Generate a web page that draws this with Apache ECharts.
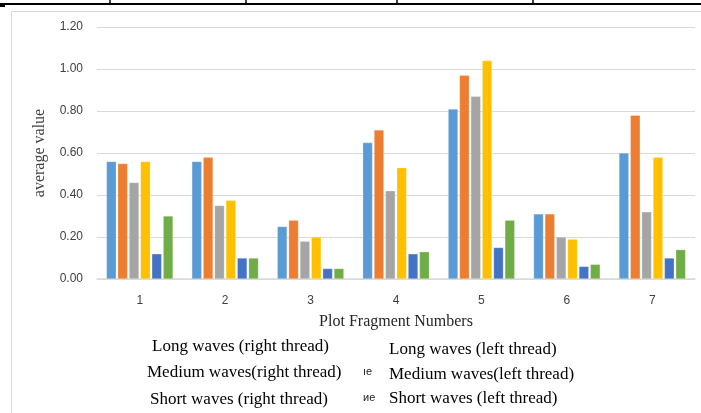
<!DOCTYPE html>
<html><head><meta charset="utf-8">
<script src="https://cdn.jsdelivr.net/npm/echarts@6/dist/echarts.min.js"></script>
<style>html,body{margin:0;padding:0;background:#fff}#c{width:701px;height:413px}</style>
</head><body><div id="c"></div>
<script>
const categories = ['1','2','3','4','5','6','7'];
const longRight   = [0.56, 0.56, 0.25, 0.65, 0.81, 0.31, 0.60];
const longLeft    = [0.55, 0.58, 0.28, 0.71, 0.97, 0.31, 0.78];
const mediumRight = [0.46, 0.35, 0.18, 0.42, 0.87, 0.20, 0.32];
const mediumLeft  = [0.56, 0.375, 0.20, 0.53, 1.04, 0.19, 0.58];
const shortRight  = [0.12, 0.10, 0.05, 0.12, 0.15, 0.06, 0.10];
const shortLeft   = [0.30, 0.10, 0.05, 0.13, 0.28, 0.07, 0.14];
const seriesNames = ['Long waves (right thread)','Long waves (left thread)','Medium waves(right thread)','Medium waves(left thread)','Short waves (right thread)','Short waves (left thread)'];
const seriesData = [longRight, longLeft, mediumRight, mediumLeft, shortRight, shortLeft];
const colors = ['#5B9BD5','#ED7D31','#A5A5A5','#FFC000','#4472C4','#70AD47'];
const yTicks = {min:0, max:1.2, interval:0.2};

const legendPos = [
  {left:147, top:338}, {left:384, top:341},
  {left:142, top:364}, {left:384, top:366},
  {left:145, top:391}, {left:384, top:390}
];
const serif = '"Liberation Serif", "DejaVu Serif", serif';
const chart = echarts.init(document.getElementById('c'));
chart.setOption({
  animation:false,
  color: colors,
  grid:{left:97, right:6, top:27, bottom:134},
  legend: seriesNames.map((n,i)=>({
    data:[n], icon:'none', itemWidth:0, itemHeight:14, padding:0,
    left:legendPos[i].left, top:legendPos[i].top, selectedMode:false,
    textStyle:{fontFamily:serif, fontSize:17, color:'#000'}
  })),
  xAxis:{
    type:'category', data:categories,
    name:'Plot Fragment Numbers', nameLocation:'middle', nameGap:35,
    nameTextStyle:{fontFamily:serif, fontSize:16, color:'#262626'},
    axisLine:{lineStyle:{color:'#d9d9d9', width:1.5}},
    axisTick:{show:false},
    axisLabel:{fontFamily:'"Liberation Sans", sans-serif', fontSize:12, color:'#404040', margin:16}
  },
  yAxis:{
    type:'value', min:yTicks.min, max:yTicks.max, interval:yTicks.interval,
    name:'average value', nameLocation:'middle', nameGap:49, nameRotate:90,
    nameTextStyle:{fontFamily:serif, fontSize:16, color:'#404040'},
    axisLine:{show:false}, axisTick:{show:false},
    axisLabel:{fontFamily:'"Liberation Sans", sans-serif', fontSize:12, color:'#404040', margin:14,
      formatter:v=>v.toFixed(2)},
    splitLine:{lineStyle:{color:'#d9d9d9', width:1.2}}
  },
  series: seriesNames.map((n,i)=>({
    name:n, type:'bar', data:seriesData[i],
    barCategoryGap:'22%', barGap:'15%',
    itemStyle:{borderColor:'rgba(255,255,255,0.5)', borderWidth:0.5}
  })),
  graphic:[
    {type:'rect', shape:{x:11.5, y:11.5, width:700, height:410}, style:{fill:'none', stroke:'#d9d9d9', lineWidth:1}, z:-1},
    {type:'line', shape:{x1:0, y1:4, x2:701, y2:4}, style:{stroke:'#000', lineWidth:2}},
    {type:'line', shape:{x1:0, y1:6, x2:5, y2:6}, style:{stroke:'#000', lineWidth:2}},
    {type:'line', shape:{x1:110, y1:0, x2:110, y2:4}, style:{stroke:'#000', lineWidth:1.5}},
    {type:'line', shape:{x1:246, y1:0, x2:246, y2:4}, style:{stroke:'#000', lineWidth:1.5}},
    {type:'line', shape:{x1:397, y1:0, x2:397, y2:4}, style:{stroke:'#000', lineWidth:1.5}},
    {type:'line', shape:{x1:533, y1:0, x2:533, y2:4}, style:{stroke:'#000', lineWidth:1.5}},
    {type:'text', left:363, top:366, style:{text:'ıe', fontFamily:'"Liberation Sans", sans-serif', fontSize:11, fill:'#222'}},
    {type:'text', left:363, top:392, style:{text:'иe', fontFamily:'"Liberation Sans", sans-serif', fontSize:11, fill:'#222'}}
  ]
});
</script></body></html>
